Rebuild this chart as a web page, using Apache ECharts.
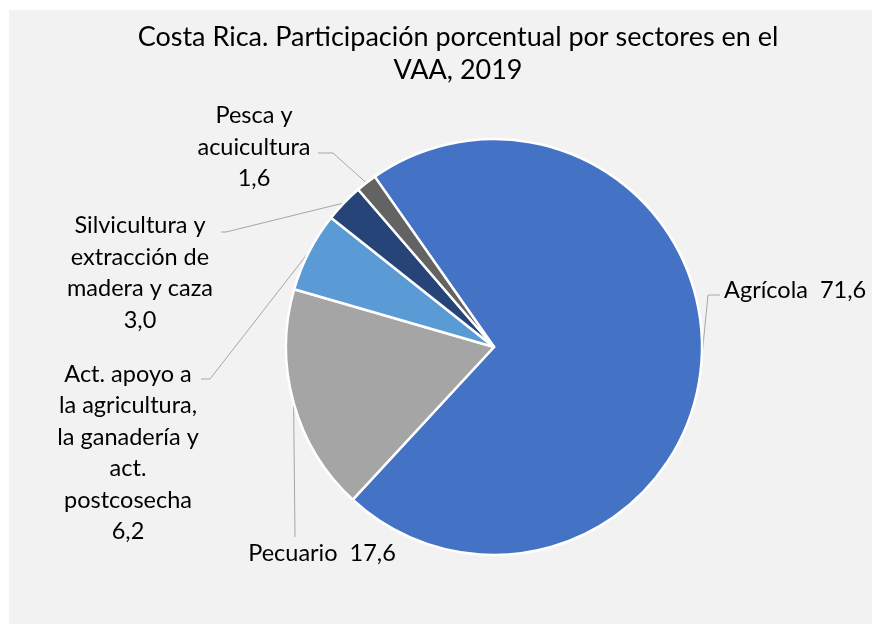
<!DOCTYPE html>
<html>
<head>
<meta charset="utf-8">
<script src="https://cdn.jsdelivr.net/npm/echarts@6/dist/echarts.min.js"></script>
<style>
  html, body { margin: 0; padding: 0; background: #fff; }
  #main { width: 872px; height: 624px; }
</style>
</head>
<body>
<div id="main"></div>
<script>
  // datos: participación porcentual en el VAA
  var sectores = ['Agrícola', 'Pecuario', 'Act. apoyo a\nla agricultura,\nla ganadería y\nact.\npostcosecha', 'Silvicultura y\nextracción de\nmadera y caza', 'Pesca y\nacuicultura'];
  var valores = [71.6, 17.6, 6.2, 3.0, 1.6];
  var colores = ['#4472C4', '#A5A5A5', '#5B9BD5', '#264478', '#636363'];

  var FONT = 'Lato';

  // posicion de cada etiqueta (x, y, align) y codo de la linea guia
  var etiquetas = [
    { x: 724, y: 290, align: 'left', linea: [[708, 295], [720, 295]] },
    { x: 322, y: 553, align: 'center', linea: [[295, 537]] },
    { x: 128, y: 453, align: 'center', linea: [[210, 379], [201, 379]] },
    { x: 140, y: 273, align: 'center', linea: [[226, 232], [221, 232]] },
    { x: 254, y: 147, align: 'center', linea: [[333, 153], [318, 153]] }
  ];

  var myChart = echarts.init(document.getElementById('main'));

  var datos = [];
  for (var i = 0; i < sectores.length; i++) {
    datos.push({ name: sectores[i], value: valores[i], itemStyle: { color: colores[i] } });
  }

  var option = {
    animation: false,
    backgroundColor: '#ffffff',
    graphic: [{
      type: 'rect',
      z: -10,
      shape: { x: 9, y: 10, width: 863, height: 614 },
      style: { fill: '#f2f2f2' }
    }],
    title: {
      text: 'Costa Rica. Participación porcentual por sectores en el\nVAA, 2019',
      left: 453,
      top: 16,
      textAlign: 'center',
      textStyle: {
        fontFamily: FONT,
        fontSize: 27,
        fontWeight: 'normal',
        color: '#000',
        lineHeight: 33
      }
    },
    series: [{
      type: 'pie',
      center: [494, 347],
      radius: 208,
      startAngle: 125,
      clockwise: true,
      data: datos,
      itemStyle: { borderColor: '#ffffff', borderWidth: 2.5 },
      label: {
        show: true,
        position: 'outside',
        overflow: 'none',
        fontFamily: FONT,
        fontSize: 23.5,
        lineHeight: 31.5,
        color: '#000',
        formatter: function (p) {
          var v = p.value.toFixed(1).replace('.', ',');
          if (p.dataIndex < 2) return p.name + '  ' + v;
          return p.name + '\n' + v;
        }
      },
      labelLine: {
        show: true,
        lineStyle: { color: '#a6a6a6', width: 1 }
      },
      labelLayout: function (params) {
        var e = etiquetas[params.dataIndex];
        var pts = [params.labelLinePoints[0]].concat(e.linea);
        return {
          x: e.x,
          y: e.y,
          align: e.align,
          verticalAlign: 'middle',
          labelLinePoints: pts
        };
      }
    }]
  };
  myChart.setOption(option);
</script>
</body>
</html>
